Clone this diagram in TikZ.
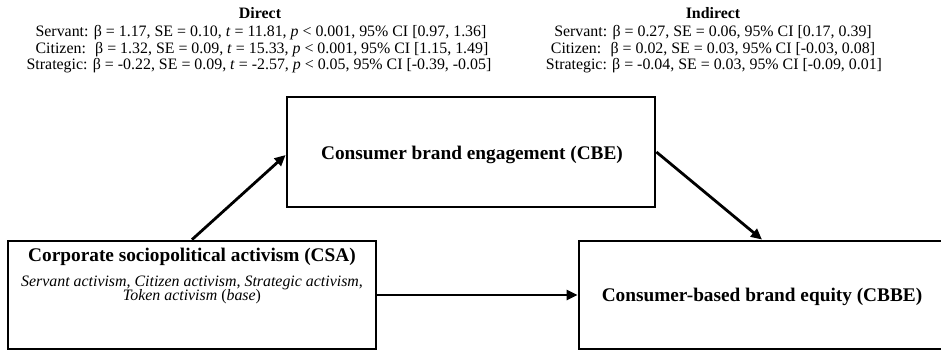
\documentclass[tikz,border=0pt]{standalone}
\usepackage{fontspec}
\setmainfont{Liberation Serif}
\usetikzlibrary{arrows.meta}
\begin{document}
\begin{tikzpicture}[x=1pt,y=-1pt,
  box/.style={draw,line width=2.8pt,minimum width=#1,minimum height=108pt,inner sep=0pt},
  arr/.style={line width=2.8pt,-{Triangle[length=11pt,width=10pt]}},
  stat/.style={font=\fontsize{15.9}{16.5}\selectfont,align=center,inner sep=0pt,anchor=base},
  title/.style={font=\fontsize{19.3}{22}\selectfont\bfseries,inner sep=0pt}
]
\useasboundingbox (0,0) rectangle (941,353);
\node[box=368pt] (csa) at (192,295) {};
\node[box=368pt,minimum height=110pt] (cbe) at (471,152) {};
\node[box=366pt] (cbbe) at (762,295) {};
\node[title] (csat) at (192,257) {Corporate sociopolitical activism (CSA)};
\node[font=\fontsize{15.9}{14.5}\selectfont,align=center,inner sep=0pt] (csas) at (192,290) {\textit{Servant activism}, \textit{Citizen activism}, \textit{Strategic activism},\\ \textit{Token activism} (\textit{base})};
\node[title] (cbet) at (472,155) {Consumer brand engagement (CBE)};
\node[title] (cbbet) at (762,297) {Consumer-based brand equity (CBBE)};
\node[stat,font=\fontsize{15.9}{16.5}\selectfont\bfseries] (dh) at (260,19) {Direct};
\node[stat] (d1) at (261,37) {Servant: β = 1.17, SE = 0.10, \textit{t} = 11.81, \textit{p} < 0.001, 95\% CI [0.97, 1.36]};
\node[stat] (d2) at (262,53.5) {Citizen: \ β = 1.32, SE = 0.09, \textit{t} = 15.33, \textit{p} < 0.001, 95\% CI [1.15, 1.49]};
\node[stat] (d3) at (259,70) {Strategic: β = -0.22, SE = 0.09, \textit{t} = -2.57, \textit{p} < 0.05, 95\% CI [-0.39, -0.05]};
\node[stat,font=\fontsize{15.9}{16.5}\selectfont\bfseries] (ih) at (713,19) {Indirect};
\node[stat] (i1) at (713,37) {Servant: β = 0.27, SE = 0.06, 95\% CI [0.17, 0.39]};
\node[stat] (i2) at (713,53.5) {Citizen: \ β = 0.02, SE = 0.03, 95\% CI [-0.03, 0.08]};
\node[stat] (i3) at (714,70) {Strategic: β = -0.04, SE = 0.03, 95\% CI [-0.09, 0.01]};
\draw[arr] (csa.north) -- ([yshift=-3pt]cbe.west);
\draw[arr] (cbe.east) -- (cbbe.north);
\draw[arr] (csa.east) -- (cbbe.west);
\end{tikzpicture}
\end{document}
